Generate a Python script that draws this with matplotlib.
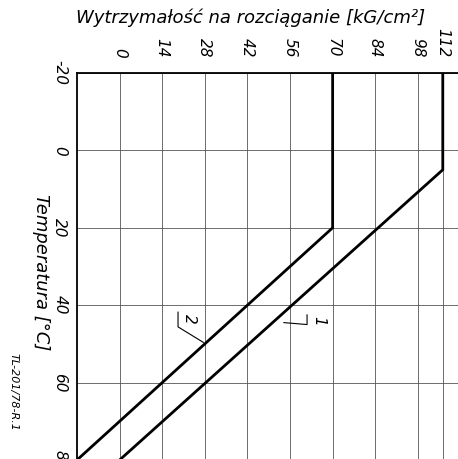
import numpy as np
import matplotlib
matplotlib.use('Agg')
import matplotlib.pyplot as plt

plt.rcParams['axes.unicode_minus'] = False

# tensile strength [kG/cm2] vs temperature [C], two materials
temp_1 = [-20, 5, 80]
strength_1 = [112, 112, 0]
temp_2 = [-20, 20, 80]
strength_2 = [70, 70, -14]

x_ticks = [0, 14, 28, 42, 56, 70, 84, 98, 112]
y_ticks = [-20, 0, 20, 40, 60, 80]

# the drawing squeezes the last cell (98..112), follow it with a piecewise scale
def fwd(x):
    return np.interp(x, [-200, 98, 112, 400], [-200, 98, 106.2, 394.2])

def inv(x):
    return np.interp(x, [-200, 98, 106.2, 394.2], [-200, 98, 112, 400])

fig = plt.figure(figsize=(4.58, 4.59), dpi=100)
ax = fig.add_axes([77 / 458, -1 / 459, 381 / 458, 387 / 459])
ax.set_xscale('function', functions=(fwd, inv))

ax.plot(strength_1, temp_1, color='black', lw=2.0, solid_joinstyle='miter')
ax.plot(strength_2, temp_2, color='black', lw=2.0, solid_joinstyle='miter')

ax.set_xlim(-14, 117)
ax.set_ylim(80, -20)
ax.set_xticks(x_ticks)
ax.set_yticks(y_ticks)
ax.minorticks_off()
ax.xaxis.tick_top()
ax.grid(True, color='#555555', lw=0.6)
ax.set_axisbelow(True)

for s in ['right', 'bottom']:
    ax.spines[s].set_visible(False)
for s in ['top', 'left']:
    ax.spines[s].set_linewidth(1.3)

ax.tick_params(axis='x', length=0, pad=11, labelsize=11, labelrotation=-90)
ax.tick_params(axis='y', length=0, pad=7, labelsize=11, labelrotation=-90)
for lbl in ax.get_xticklabels() + ax.get_yticklabels():
    lbl.set_fontstyle('italic')
for lbl in ax.get_yticklabels():
    lbl.set_verticalalignment('center')

# curve markers
ax.plot([19.2, 19.2, 27.5], [41.8, 45.6, 49.6], color='black', lw=0.8)
ax.text(22.8, 43.6, '2', rotation=-90, fontsize=11, style='italic', ha='center', va='center')
ax.plot([61.6, 61.6, 54.0], [42.5, 45.0, 44.5], color='black', lw=0.8)
ax.text(65.5, 44.0, '1', rotation=-90, fontsize=11, style='italic', ha='center', va='center')

fig.text(251 / 458, 1 - 18 / 459, 'Wytrzymałość na rozciąganie [kG/cm²]',
         ha='center', va='center', fontsize=13, style='italic')
fig.text(41 / 458, 1 - 272 / 459, 'Temperatura [°C]', rotation=-90,
         ha='center', va='center', fontsize=13, style='italic')
fig.text(14 / 458, 1 - 392 / 459, 'TL-201/78-R.1', rotation=-90,
         ha='center', va='center', fontsize=8, style='italic')

fig.savefig('out.png', dpi=100)
